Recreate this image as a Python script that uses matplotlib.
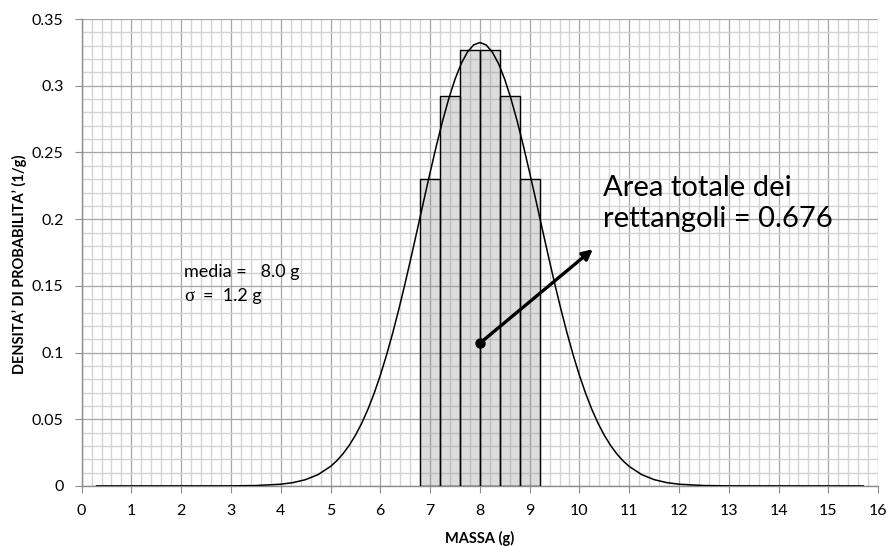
import matplotlib
matplotlib.use("Agg")
import matplotlib.pyplot as plt
from matplotlib.ticker import MultipleLocator, FuncFormatter

# Data
bar_left = [6.8, 7.2, 7.6, 8.0, 8.4, 8.8]
bar_width = 0.4
bar_height = [0.230, 0.2925, 0.327, 0.327, 0.2925, 0.230]

curve_x = [0.3, 3.0, 3.5, 4.0, 4.25, 4.5, 4.75, 5.0, 5.125, 5.25, 5.375,
           5.5, 5.625, 5.75, 5.875, 6.0, 6.125, 6.25, 6.375, 6.5, 6.625,
           6.75, 6.875, 7.0, 7.125, 7.25, 7.375, 7.5, 7.625, 7.75, 7.875,
           8.0, 8.125, 8.25, 8.375, 8.5, 8.625, 8.75, 8.875, 9.0, 9.125,
           9.25, 9.375, 9.5, 9.625, 9.75, 9.875, 10.0, 10.125, 10.25, 10.375,
           10.5, 10.625, 10.75, 10.875, 11.0, 11.25, 11.5, 11.75, 12.0, 12.5,
           13.0, 15.7]
curve_y = [0.0, 0.00005, 0.0003, 0.00128, 0.00252, 0.00473, 0.00849, 0.01461,
           0.01885, 0.02406, 0.03039, 0.03795, 0.04689, 0.05732, 0.06931,
           0.08290, 0.09808, 0.11479, 0.13291, 0.15221, 0.17244, 0.19325,
           0.21423, 0.23493, 0.25485, 0.27347, 0.29028, 0.30481, 0.31661,
           0.32531, 0.33065, 0.33245, 0.33065, 0.32531, 0.31661, 0.30481,
           0.29028, 0.27347, 0.25485, 0.23493, 0.21423, 0.19325, 0.17244,
           0.15221, 0.13291, 0.11479, 0.09808, 0.08290, 0.06931, 0.05732,
           0.04689, 0.03795, 0.03039, 0.02406, 0.01885, 0.01461, 0.00849,
           0.00473, 0.00252, 0.00128, 0.0003, 0.00005, 0.0]

arrow_start = (8.0, 0.107)
arrow_end = (10.27, 0.1775)

plt.rcParams['font.family'] = ['Lato', 'DejaVu Sans']

fig = plt.figure(figsize=(8.87, 5.46), dpi=100)
ax = fig.add_axes([0.092, 0.110, 0.898, 0.855])

ax.set_xlim(0, 16)
ax.set_ylim(0, 0.35)
ax.xaxis.set_major_locator(MultipleLocator(1))
ax.xaxis.set_minor_locator(MultipleLocator(0.2))
ax.yaxis.set_major_locator(MultipleLocator(0.05))
ax.yaxis.set_minor_locator(MultipleLocator(0.01))
ax.yaxis.set_major_formatter(FuncFormatter(lambda v, p: f"{v:g}" if abs(v) > 1e-9 else "0"))

ax.grid(which='major', color='#a6a6a6', linewidth=0.9, zorder=0)
ax.grid(which='minor', color='#d3d3d3', linewidth=1.0, zorder=0)
ax.set_axisbelow(True)

ax.bar(bar_left, bar_height, width=bar_width, align='edge',
       facecolor=(0.55, 0.55, 0.55, 0.3), edgecolor='black', linewidth=1.0, zorder=3)

ax.plot(curve_x, curve_y, color='black', linewidth=1.1, zorder=4,
        solid_joinstyle='round')

ax.annotate('', xy=arrow_end, xytext=arrow_start,
            arrowprops=dict(arrowstyle='-|>', color='black', lw=2.4,
                            mutation_scale=15, shrinkA=0, shrinkB=0), zorder=5)
ax.plot([arrow_start[0]], [arrow_start[1]], 'o', color='black', markersize=6.5, zorder=6)

ax.text(10.47, 0.194, 'Area totale dei\nrettangoli = 0.676', fontsize=21,
        ha='left', va='baseline', linespacing=1.27, zorder=6)
ax.text(2.06, 0.157, 'media =   8.0 g', fontsize=13, ha='left', va='baseline', zorder=6)
ax.text(2.06, 0.139, 'σ', fontsize=13.5, ha='left', va='baseline', zorder=6,
        family=['Liberation Serif'])
ax.text(2.44, 0.139, '=  1.2 g', fontsize=13, ha='left', va='baseline', zorder=6)

for s in ['top', 'right']:
    ax.spines[s].set_visible(False)
for s in ['left', 'bottom']:
    ax.spines[s].set_color('#8c8c8c')
    ax.spines[s].set_linewidth(1.0)
ax.tick_params(which='major', direction='out', length=5, color='#8c8c8c', labelsize=11.5)
ax.tick_params(axis='x', which='major', pad=8)
ax.tick_params(axis='y', which='major', pad=8)
ax.tick_params(which='minor', length=0)

ax.set_xlabel('MASSA (g)', fontsize=10.5, fontweight='bold', labelpad=9)
ax.set_ylabel('DENSITA\u2019 DI PROBABILITA\u2019 (1/g)', fontsize=10.5, fontweight='bold')
ax.yaxis.set_label_coords(-0.068, 0.475)

fig.savefig('out.png', dpi=100)
